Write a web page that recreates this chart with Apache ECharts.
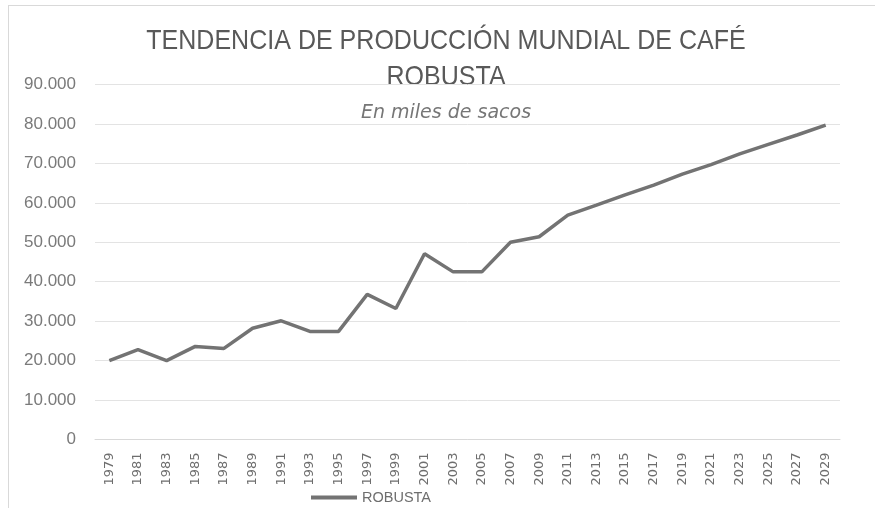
<!DOCTYPE html>
<html>
<head>
<meta charset="utf-8">
<script src="https://cdn.jsdelivr.net/npm/echarts@6/dist/echarts.min.js"></script>
<style>
  html, body { margin: 0; padding: 0; background: #fff; }
  #frame {
    position: absolute; left: 8px; top: 5px; width: 900px; height: 520px;
    border-left: 1px solid #d9d9d9; border-top: 1px solid #d9d9d9;
  }
  #chart { position: absolute; left: 0; top: 0; width: 875px; height: 508px; }
</style>
</head>
<body>
<div id="frame"></div>
<div id="chart"></div>
<script>
// años (cada dos años)
const years = ['1979', '1981', '1983', '1985', '1987', '1989', '1991', '1993', '1995', '1997',
  '1999', '2001', '2003', '2005', '2007', '2009', '2011', '2013', '2015', '2017',
  '2019', '2021', '2023', '2025', '2027', '2029']

// producción robusta, miles de sacos
const robusta = [20000, 22800, 20000, 23600, 23100, 28200, 30100, 27400, 27400, 36800,
  33200, 47100, 42500, 42500, 50000, 51400, 56900, 59400, 62000, 64500,
  67300, 69700, 72400, 74800, 77200, 79700]

const yTicks = { min: 0, max: 90000, interval: 10000 }

const chart = echarts.init(document.getElementById('chart'))

const fmt = v => String(v).replace(/\B(?=(\d{3})+(?!\d))/g, '.')

// titulo angosto (tipo Calibri Light)
const titleText = (text, y) => ({
  type: 'text',
  x: 446,
  y: y,
  scaleX: 0.894,
  style: {
    text: text,
    x: 0,
    y: 0,
    textAlign: 'center',
    textVerticalAlign: 'middle',
    font: '28px "Liberation Sans", Arial, sans-serif',
    fill: '#595959'
  }
})

const option = {
  animation: false,
  graphic: [
    titleText('TENDENCIA DE PRODUCCIÓN MUNDIAL DE CAFÉ', 41),
    titleText('ROBUSTA', 77),
    {
      type: 'text',
      x: 446,
      y: 113,
      style: {
        text: 'En miles de sacos',
        x: 0,
        y: 0,
        textAlign: 'center',
        textVerticalAlign: 'middle',
        font: 'oblique 19px "DejaVu Sans", sans-serif',
        fill: '#767676'
      }
    }
  ],
  legend: {
    data: ['ROBUSTA'],
    left: 306,
    top: 485,
    itemWidth: 46,
    itemHeight: 4,
    icon: 'rect',
    textStyle: { fontFamily: 'Liberation Sans, sans-serif', fontSize: 14.5, color: '#6e6e6e' }
  },
  grid: { left: 95, right: 35, top: 84.5, bottom: 68.5 },
  xAxis: {
    type: 'category',
    data: years,
    boundaryGap: true,
    axisLine: { show: true, lineStyle: { color: '#d9d9d9' } },
    axisTick: { show: false },
    axisLabel: {
      rotate: 90,
      margin: 13,
      fontFamily: 'DejaVu Sans, sans-serif',
      fontSize: 13,
      color: '#6e6e6e'
    }
  },
  yAxis: {
    type: 'value',
    min: yTicks.min,
    max: yTicks.max,
    interval: yTicks.interval,
    axisLine: { show: false },
    axisTick: { show: false },
    splitLine: { lineStyle: { color: '#e3e3e3', width: 1 } },
    axisLabel: {
      formatter: fmt,
      margin: 19,
      fontFamily: 'Liberation Sans, Arial, sans-serif',
      fontSize: 17,
      color: '#7a7a7a'
    }
  },
  series: [
    {
      name: 'ROBUSTA',
      type: 'line',
      data: robusta,
      symbol: 'none',
      lineStyle: { color: '#737373', width: 3.5 },
      itemStyle: { color: '#737373' }
    }
  ]
}

chart.setOption(option)
</script>
</body>
</html>
